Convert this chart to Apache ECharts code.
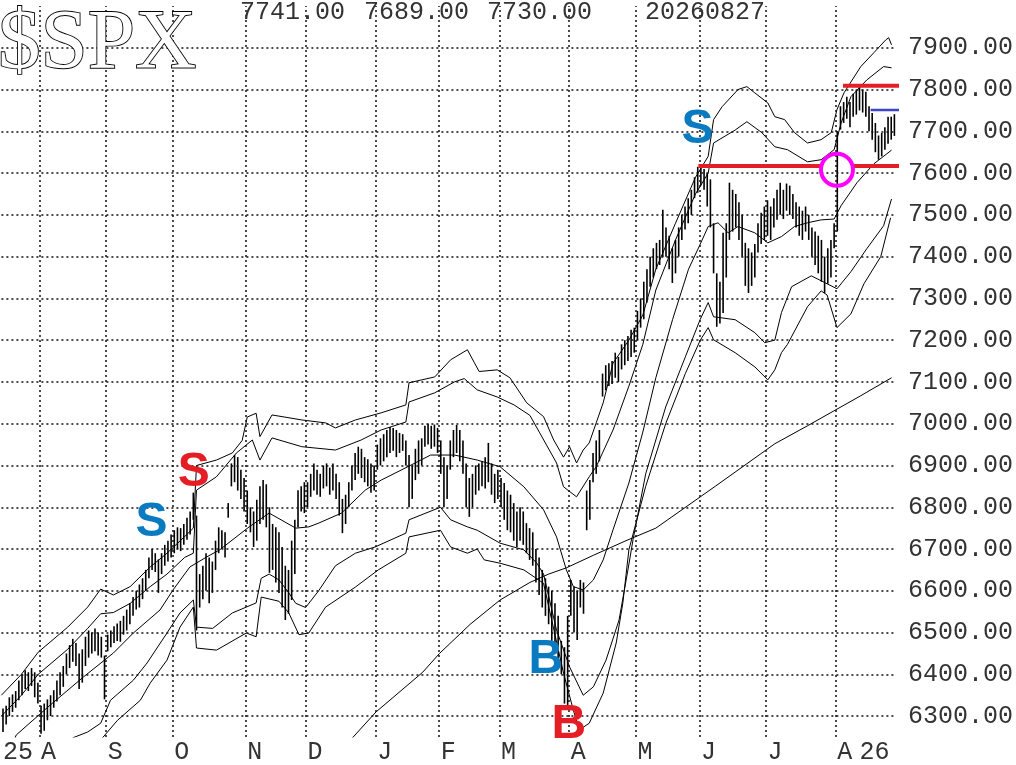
<!DOCTYPE html>
<html><head><meta charset="utf-8">
<script src="https://cdn.jsdelivr.net/npm/echarts@6/dist/echarts.min.js"></script>
<style>html,body{margin:0;padding:0;background:#fff}#c{width:1016px;height:765px}</style>
</head><body><div id="c"></div>
<script>
// ---- axis data ----
const monthLabels = ['25','A','S','O','N','D','J','F','M','A','M','J','J','A'];
const monthDays   = [12,21,21,23,19,22,20,19,22,21,20,21,22,19];
const yearLabel = '26', yearLabelDay = 270;
const yTicks = [6300,6400,6500,6600,6700,6800,6900,7000,7100,7200,7300,7400,7500,7600,7700,7800,7900];

// ---- daily bars (low / high), one per trading day ----
const lo = [
6262,6280,6300,6310,6320,6338,6350,6365,6360,6372,6345,6330,
6258,6265,6290,6300,6320,6335,6350,6370,6400,6415,6430,6420,6365,6380,6420,6440,6450,6455,6445,6440,6340,
6455,6465,6475,6480,6478,6495,6505,6520,6540,6555,6560,6580,6600,6630,6650,6645,6595,6640,6660,6670,6680,
6690,6700,6695,6710,6722,6735,6770,6505,6560,6580,6600,6570,6595,6650,6690,6700,6680,6775,6850,6860,6840,6820,6790,
6760,6740,6705,6720,6760,6770,6752,6643,6650,6620,6595,6560,6530,6545,6578,6640,6752,6790,6786,
6800,6825,6840,6830,6825,6845,6850,6830,6840,6820,6780,6738,6760,6800,6840,6865,6880,6870,6860,6850,6835,6840,
6890,6900,6910,6920,6930,6935,6920,6930,6935,6900,6800,6820,6865,6880,6900,6945,6950,6940,6945,6930,
6880,6800,6820,6890,6920,6930,6910,6880,6800,6777,6800,6830,6840,6850,6845,6860,6830,6810,6820,
6800,6770,6745,6740,6720,6705,6720,6710,6690,6674,6660,6620,6590,6560,6540,6520,6480,6450,6435,6400,6330,6322,
6540,6500,6482,6560,6545,6745,6770,6860,6880,6910,7065,7080,7090,7095,7110,7100,7130,7140,7150,7160,7170,
7200,7230,7250,7290,7328,7350,7370,7380,7400,7400,7370,7337,7360,7400,7440,7465,7480,7500,7540,7553,
7570,7560,7520,7470,7360,7232,7240,7265,7350,7440,7460,7470,7440,7400,7330,7313,7330,7350,7410,7430,7440,
7450,7440,7470,7488,7500,7490,7510,7500,7490,7470,7450,7440,7460,7440,7400,7380,7360,7340,7313,7335,7350,7420,
7460,7704,7720,7730,7710,7735,7740,7750,7745,7735,7700,7680,7650,7632,7640,7656,7670,7680,7689];
const hi = [
6318,6325,6345,6352,6360,6385,6400,6410,6405,6415,6405,6380,
6325,6330,6340,6350,6362,6385,6405,6420,6450,6470,6485,6475,6450,6460,6490,6505,6500,6510,6500,6490,6445,
6495,6505,6515,6522,6528,6540,6555,6570,6585,6600,6615,6630,6650,6680,6700,6690,6675,6690,6710,6720,6735,
6745,6752,6750,6760,6775,6790,6835,6780,6640,6660,6690,6680,6670,6720,6752,6745,6740,6810,6905,6925,6920,6890,6870,
6840,6800,6790,6818,6850,6865,6855,6800,6760,6752,6740,6705,6660,6650,6720,6770,6841,6850,6860,
6860,6880,6905,6890,6880,6900,6905,6895,6905,6880,6860,6820,6830,6860,6900,6930,6945,6940,6920,6915,6905,6900,
6950,6965,6975,6985,6992,6990,6985,6978,6975,6960,6925,6900,6940,6960,6965,6995,7000,6995,6998,6990,
6960,6920,6900,6960,6985,6997,6985,6960,6905,6870,6880,6900,6905,6910,6920,6954,6905,6880,6890,
6870,6858,6840,6830,6810,6790,6800,6790,6762,6750,6740,6700,6680,6650,6630,6610,6600,6570,6540,6480,6465,6540,
6626,6610,6600,6626,6620,6840,6865,6930,6960,6985,7120,7140,7145,7150,7170,7160,7190,7200,7210,7225,7230,
7270,7300,7340,7370,7400,7420,7433,7440,7512,7470,7450,7420,7440,7470,7500,7520,7540,7560,7590,7615,
7620,7610,7600,7585,7480,7360,7340,7457,7480,7577,7560,7550,7530,7500,7433,7420,7410,7430,7480,7505,7520,
7535,7520,7540,7560,7577,7560,7575,7570,7550,7530,7520,7510,7520,7500,7470,7460,7450,7440,7400,7420,7440,7480,
7700,7760,7770,7783,7770,7790,7800,7807,7800,7795,7760,7744,7720,7690,7696,7710,7735,7735,7741];
const lastClose = 7730, lastDate = '20260827';

// ---- bands [trading-day position, value] ----
const upO = [[0,6350],[6.3,6400],[11.6,6453],[20.9,6513],[27.2,6561],[31.3,6604],[35.3,6590],[40.6,6610],[46.9,6657],[52.2,6690],[57.8,6730],[60.5,6750],[61.5,6900],[67.8,6913],[72.8,6930],[75.9,6960],[77.5,7016],[80.3,7025],[81.5,6969],[85.3,7021],[94.7,7009],[102.2,7002],[105.3,6990],[111.6,7009],[119.7,7026],[127.5,7045],[128.5,7098],[136.6,7112],[141.6,7153],[146.9,7177],[149.1,7146],[150.6,7125],[156.3,7129],[160.3,7110],[165.6,7050],[170.9,7017],[174.1,6961],[177.2,6920],[179.1,6945],[181.3,6906],[183.4,6937],[185.3,6954],[187.5,7002],[189.7,7050],[192.8,7145],[197.8,7200],[202.2,7260],[206.3,7370],[212.5,7480],[218.8,7590],[222.8,7640],[224.5,7728],[227.2,7759],[232.2,7800],[235,7807],[237.5,7792],[241.6,7768],[243.8,7735],[246.9,7728],[250,7697],[254.1,7672],[258.4,7680],[261.6,7697],[263.4,7752],[265.6,7792],[270.9,7855],[275,7888],[278.8,7919],[279.7,7924],[280.6,7907]];
const upI = [[0,6300],[6.3,6350],[11.6,6400],[20.9,6460],[27.2,6510],[31.3,6545],[35.3,6548],[40.6,6570],[46.9,6610],[52.2,6640],[57.8,6680],[60.5,6690],[61.5,6841],[67.8,6873],[74.1,6930],[79.1,6961],[81.5,6913],[85.3,6966],[94.7,6945],[105.3,6937],[113.4,6961],[119.7,6985],[127.5,7004],[128.5,7052],[136.6,7074],[142.8,7100],[145.9,7108],[150,7081],[156.3,7064],[161.6,7045],[166.6,7020],[169.7,6978],[175,6906],[177.2,6849],[181.3,6825],[185.3,6873],[187.5,6897],[192.8,6985],[197.8,7090],[202.2,7190],[206.3,7320],[212.5,7440],[218.8,7550],[222.8,7600],[224.5,7672],[231.3,7703],[235,7723],[239.7,7697],[243.8,7663],[247.8,7656],[254.1,7627],[258.4,7632],[262.5,7656],[264.7,7720],[267.8,7783],[272.8,7823],[278.1,7855],[280.6,7852]];
const mid = [[3.5,6235],[4.7,6255],[14.7,6322],[25.9,6394],[35.3,6451],[41.6,6499],[50,6554],[54.1,6602],[59.4,6657],[64.7,6681],[68.8,6698],[78.1,6753],[84.4,6786],[92.8,6750],[96.9,6753],[100,6762],[107.2,6786],[114.7,6841],[119.7,6865],[128.1,6897],[135.3,6925],[142.8,6925],[150,6913],[157.2,6897],[164.7,6849],[170.9,6794],[175,6729],[178.1,6650],[180.3,6610],[183.4,6602],[186.6,6626],[189.7,6674],[192.8,6746],[197.8,6858],[202.2,6980],[206.3,7110],[211.6,7250],[216.6,7370],[220.3,7430],[222.8,7472],[225.9,7481],[229.1,7457],[232.2,7472],[237.5,7457],[241.6,7433],[245.9,7448],[250,7472],[254.1,7481],[258.4,7488],[262.5,7490],[264.7,7522],[269.7,7577],[275,7622],[280.6,7655]];
const loI = [[21.5,6235],[22.5,6248],[27.2,6262],[31.3,6283],[34.4,6338],[41.6,6386],[45.9,6427],[52.2,6499],[56.3,6547],[60.5,6578],[61.5,6513],[66.6,6510],[72.8,6547],[77.2,6561],[80.3,6571],[81.9,6630],[84.4,6640],[87.5,6626],[90.6,6595],[92.8,6570],[95.9,6560],[100,6600],[105.3,6660],[111.6,6690],[117.8,6705],[127.5,6738],[128.5,6770],[138.4,6800],[141.6,6770],[146.9,6753],[150,6745],[157.2,6714],[164.7,6698],[168.8,6666],[170.9,6640],[175,6506],[179.1,6418],[183.4,6350],[186.6,6370],[190.6,6434],[194.7,6530],[197.5,6650],[199.1,6722],[203.1,6880],[209.4,7040],[215.6,7160],[220.3,7250],[222.8,7290],[224.5,7256],[231.3,7249],[237.5,7218],[240.6,7194],[243.8,7200],[245.9,7266],[249.1,7328],[255.3,7354],[260.3,7335],[263.4,7323],[267.8,7364],[272.8,7419],[278.1,7474],[280.6,7538]];
const loO = [[30.5,6235],[31.3,6243],[36.6,6290],[43.8,6338],[46.9,6379],[52.2,6434],[56.3,6513],[60.5,6561],[61.5,6463],[67.8,6458],[77.2,6499],[80.3,6490],[81.9,6585],[87.5,6575],[90.6,6547],[93.8,6495],[96.9,6499],[102.2,6561],[111.6,6609],[118.8,6650],[127.5,6690],[128.5,6729],[138.4,6745],[141.6,6705],[146.9,6690],[150,6700],[152.2,6674],[157.2,6666],[164.7,6650],[170.9,6618],[177.2,6403],[180.3,6314],[182.2,6267],[185.3,6283],[189.7,6355],[193.8,6475],[195.9,6571],[197.8,6698],[203.1,6850],[209.4,7000],[215.6,7120],[220.3,7200],[222.8,7230],[224.5,7201],[231.3,7170],[237.5,7136],[241.6,7105],[243.8,7129],[245.9,7170],[247.8,7190],[254.1,7280],[258.4,7318],[260.3,7308],[263.4,7230],[267.8,7263],[271.9,7335],[277.2,7400],[280.3,7493]];
const ma200 = [[110.3,6245],[118.1,6310],[132.8,6405],[138.1,6450],[147.8,6520],[157.2,6578],[166.6,6620],[172.5,6640],[178.1,6655],[186.6,6685],[196.9,6720],[206.3,6750],[225,6850],[243.8,6952],[254.1,6995],[262.5,7031],[270.9,7067],[280.6,7110]];

// ---- annotations ----
const sigBlue = [[47.3,6762,'S'],[219.4,7704,'S'],[171.6,6434,'B']];
const sigRed  = [[60.6,6882,'S'],[178.9,6279,'B']];
const redLines  = [[219.7,258.4,7617],[268.4,285.3,7617],[265.3,284.4,7809]];
const blueLines = [[274,284.7,7751]];
const circles   = [[263.4,7608]];

// ---- derived layout helpers ----
const nDays = monthDays.reduce((a,b)=>a+b,0);
const monthStart = []; { let s=0; monthDays.forEach(d=>{monthStart.push(s); s+=d;}); }
const labelAt = {}; monthStart.forEach((s,i)=>labelAt[s]=monthLabels[i]); labelAt[yearLabelDay]=yearLabel;
const cats = Array.from({length:nDays},(_,i)=>String(i));
const MONO = '"Liberation Mono", "DejaVu Sans Mono", monospace';
const RED = '#e51e25', BLUE = '#0a7bc1';

const chart = echarts.init(document.getElementById('c'), null, {renderer:'canvas'});
function band(data){ return {type:'line', xAxisIndex:1, data, symbol:'none', silent:true, z:2,
  lineStyle:{color:'#000', width:1}}; }
function hline(seg, color, width){ return {type:'line', xAxisIndex:1, symbol:'none', silent:true, clip:false, z:6,
  data:[[seg[0],seg[2]],[seg[1],seg[2]]], lineStyle:{color, width}}; }
function sig(data, color){ return {type:'scatter', xAxisIndex:1, data, symbolSize:2, silent:true, z:8, clip:false,
  itemStyle:{color:'rgba(0,0,0,0)', opacity:1},
  label:{show:true, position:'inside', formatter:p=>p.value[2], color, opacity:1, textBorderWidth:0,
    fontSize:48, fontWeight:'bold', fontFamily:'"Liberation Sans", Arial, sans-serif'}}; }

const gridMarks = yTicks.map(v=>({yAxis:v})).concat(monthStart.slice(1).map(d=>({xAxis:d})));

chart.setOption({
  animation:false,
  backgroundColor:'#fff',
  grid:{left:0, right:1016-902, top:6, bottom:28, containLabel:false},
  xAxis:[
    {type:'category', data:cats, boundaryGap:true, axisLine:{show:false}, axisTick:{show:false}, splitLine:{show:false},
     axisLabel:{interval:(i)=>labelAt[i]!==undefined, formatter:(v,i)=>labelAt[i]||'', align:'left',
       fontFamily:MONO, fontSize:25, color:'#333', margin:3}},
    {type:'value', min:0, max:nDays, show:false}
  ],
  yAxis:{type:'value', position:'right', min:6250, max:8000, interval:50,
    axisLine:{show:false}, axisTick:{show:false}, splitLine:{show:false},
    axisLabel:{formatter:v=>(v%100===0 && v>=yTicks[0] && v<=yTicks[yTicks.length-1])? v.toFixed(2):'',
      fontFamily:MONO, fontSize:25, color:'#333', margin:12}},
  graphic:[
    {type:'text', x:-2, y:3, z:10, style:{text:'$SPX', fontFamily:'"Liberation Serif", "DejaVu Serif", serif',
      fontSize:85, fill:'#fff', stroke:'#000', lineWidth:1.8}},
    {type:'text', x:240, y:0, z:10, style:{text:hi[nDays-1].toFixed(2), font:'25px '+MONO, fill:'#333'}},
    {type:'text', x:364, y:0, z:10, style:{text:lo[nDays-1].toFixed(2), font:'25px '+MONO, fill:'#333'}},
    {type:'text', x:487, y:0, z:10, style:{text:lastClose.toFixed(2), font:'25px '+MONO, fill:'#333'}},
    {type:'text', x:645, y:0, z:10, style:{text:lastDate, font:'25px '+MONO, fill:'#333'}}
  ],
  series:[
    Object.assign(band(ma200), {markLine:{silent:true, symbol:'none', animation:false, label:{show:false},
      lineStyle:{color:'#111', width:1.5, type:[2,3]}, data:gridMarks}}),
    band(upO), band(upI), band(mid), band(loI), band(loO),
    {type:'custom', xAxisIndex:1, silent:true, z:4,
     data: lo.map((l,i)=>[i+0.5, l, hi[i]]),
     encode:{x:0, y:[1,2]},
     renderItem:(params, api)=>{
       const x = api.value(0);
       const a = api.coord([x, api.value(1)]), b = api.coord([x, api.value(2)]);
       return {type:'line', shape:{x1:a[0], y1:a[1], x2:b[0], y2:b[1]}, style:{stroke:'#000', lineWidth:1.6}};
     }},
    ...redLines.map(s=>hline(s, RED, 4)),
    ...blueLines.map(s=>hline(s, '#3b45c6', 2.5)),
    {type:'scatter', xAxisIndex:1, data:circles, symbol:'circle', symbolSize:32, silent:true, z:7,
     itemStyle:{color:'rgba(0,0,0,0)', borderColor:'#ff00ff', borderWidth:4, opacity:1}},
    sig(sigBlue, BLUE), sig(sigRed, RED)
  ]
});
</script></body></html>
